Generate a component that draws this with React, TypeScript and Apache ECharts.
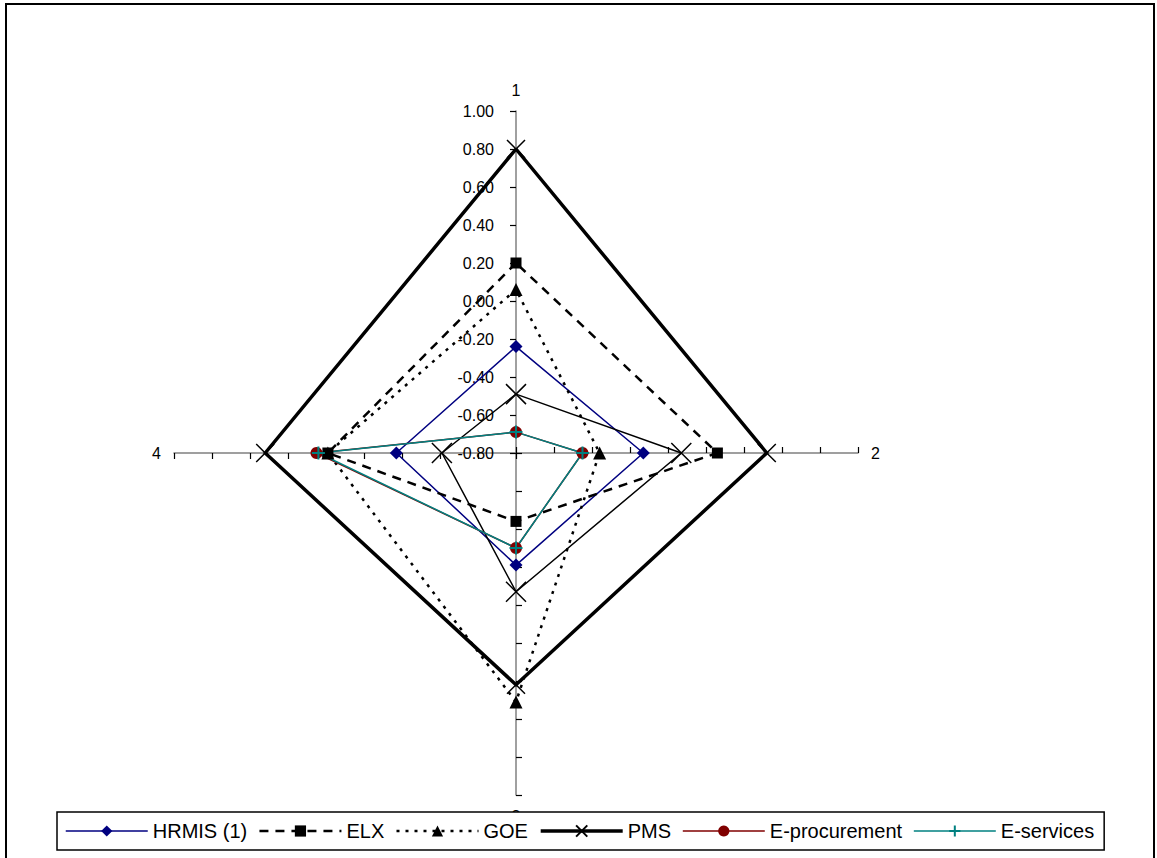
import React, { useEffect, useRef } from "react";
import * as echarts from "echarts";

const axisNames = ["1", "2", "3", "4"];
const axisMin = -0.8;
const axisMax = 1.0;
const axisStep = 0.2;

const hrmis1 = [-0.24, -0.13, -0.21, -0.17];
const elx = [0.2, 0.26, -0.44, 0.19];
const goe = [0.06, -0.36, 0.51, 0.19];
const pms = [0.8, 0.52, 0.42, 0.52];
const hrmis2 = [-0.49, 0.07, -0.07, -0.41];
const eProcurement = [-0.69, -0.45, -0.3, 0.25];
const eServices = [-0.69, -0.45, -0.3, 0.24];

const legendNames = ["HRMIS (1)", "ELX", "GOE", "PMS", "E-procurement", "E-services"];

const X_PATH = "path://M0 0 L10 10 M10 0 L0 10";
const PLUS_PATH = "path://M5 0 L5 10 M0 5 L10 5";

// ECharts places radar indicators counter-clockwise; Excel goes clockwise.
const order = [0, 3, 2, 1];
const reorder = (arr: number[]) => order.map((i) => arr[i]);

const seriesDefs = [
  { name: "HRMIS (1)", values: hrmis1, color: "#000080", width: 1.5, type: "solid", symbol: "diamond", size: 13, border: 0 },
  { name: "ELX", values: elx, color: "#000000", width: 2.5, type: [9, 7], symbol: "rect", size: 11, border: 0 },
  { name: "GOE", values: goe, color: "#000000", width: 2.5, type: [3, 6], symbol: "triangle", size: 13, border: 0 },
  { name: "PMS", values: pms, color: "#000000", width: 3.5, type: "solid", symbol: X_PATH, size: 18, border: 1.5 },
  { name: "HRMIS (2)", values: hrmis2, color: "#000000", width: 1.5, type: "solid", symbol: X_PATH, size: 20, border: 1.5 },
  { name: "E-procurement", values: eProcurement, color: "#800000", width: 1.5, type: "solid", symbol: "circle", size: 12, border: 0 },
  { name: "E-services", values: eServices, color: "#008080", width: 1.5, type: "solid", symbol: PLUS_PATH, size: 13, border: 2 },
];

export default function App() {
  const ref = useRef<HTMLDivElement>(null);
  useEffect(() => {
    if (!ref.current) return;
    const chart = echarts.init(ref.current, undefined, { renderer: "svg" });
    const font = "'Liberation Sans', Arial, sans-serif";
    const indicator = order.map((i) => ({ name: axisNames[i], min: axisMin, max: axisMax }));

    const legendDefs = seriesDefs.filter((d) => legendNames.includes(d.name));

    const legendSeries = legendDefs.map((d) => ({
      type: "line",
      name: d.name,
      xAxisIndex: 0,
      yAxisIndex: 0,
      data: [],
      symbol: d.symbol,
      symbolSize: d.size,
      lineStyle: { color: d.color, width: d.width, type: d.type },
      itemStyle: { color: d.color, borderColor: d.color, borderWidth: d.border },
    }));

    const radarSeries = seriesDefs.map((d) => ({
      type: "radar",
      name: d.name,
      radarIndex: 0,
      symbol: d.symbol,
      symbolSize: d.size,
      lineStyle: { color: d.color, width: d.width, type: d.type },
      itemStyle: { color: d.color, borderColor: d.color, borderWidth: d.border },
      data: [{ value: reorder(d.values), name: d.name }],
    }));

    chart.setOption({
      animation: false,
      backgroundColor: "#ffffff",
      graphic: [
        {
          type: "rect",
          shape: { x: 6, y: 4, width: 1148, height: 870 },
          style: { fill: "none", stroke: "#000", lineWidth: 2 },
          silent: true,
        },
      ],
      radar: [
        {
          center: [516, 453],
          radius: 342,
          startAngle: 90,
          shape: "polygon",
          splitNumber: 9,
          indicator,
          nameGap: 13,
          axisName: { color: "#000", fontSize: 16, fontFamily: font },
          axisLine: { lineStyle: { color: "#808080", width: 1.5 } },
          axisTick: { show: true, length: 6, lineStyle: { color: "#000", width: 1.2 } },
          axisLabel: { show: false },
          splitLine: { show: false },
          splitArea: { show: false },
        },
      ],
      grid: { left: 516, top: 111, width: 10, height: 342 },
      xAxis: { type: "value", show: false, min: 0, max: 1 },
      yAxis: {
        type: "value",
        min: axisMin,
        max: axisMax,
        interval: axisStep,
        position: "left",
        axisLine: { show: false },
        axisTick: { show: false },
        splitLine: { show: false },
        axisLabel: {
          margin: 22,
          color: "#000",
          fontSize: 16,
          fontFamily: font,
          formatter: (v: number) => v.toFixed(2),
        },
      },
      legend: {
        data: legendDefs.map((d) => ({
          name: d.name,
          lineStyle: { width: d.width, type: d.type, color: d.color },
        })),
        left: 57,
        top: 812,
        orient: "horizontal",
        padding: [9, 10, 9, 8],
        itemWidth: 82,
        itemHeight: 14,
        itemGap: 11,
        backgroundColor: "#fff",
        borderColor: "#000",
        borderWidth: 1.5,
        z: 10,
        textStyle: {
          color: "#000",
          fontSize: 20,
          fontFamily: font,
        },
      },
      series: [...legendSeries, ...radarSeries],
    });
    return () => chart.dispose();
  }, []);
  return (
    <div
      ref={ref}
      style={{ position: "absolute", left: 0, top: 0, width: 1157, height: 858 }}
    />
  );
}
